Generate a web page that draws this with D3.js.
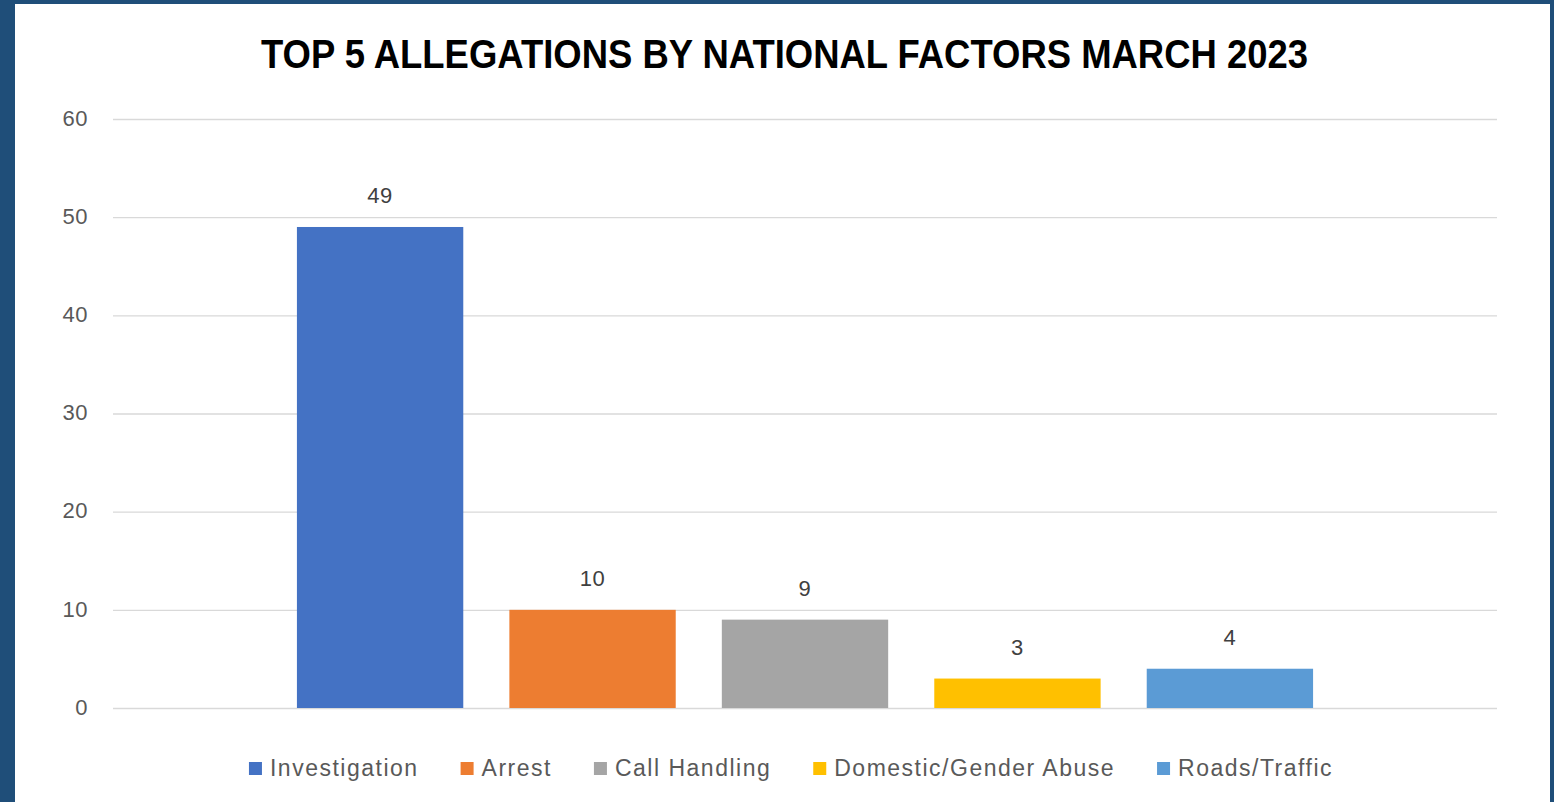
<!DOCTYPE html>
<html><head><meta charset="utf-8">
<script src="https://cdn.jsdelivr.net/npm/d3@7"></script>
<style>
html,body{margin:0;padding:0;background:#1F4E79;}
svg{display:block;}
</style></head>
<body>
<script>
const title = "TOP 5 ALLEGATIONS BY NATIONAL FACTORS MARCH 2023";
const category = ["March 2023"];
const series = ["Investigation", "Arrest", "Call Handling", "Domestic/Gender Abuse", "Roads/Traffic"];
const values = [49, 10, 9, 3, 4];
const colors = ["#4472C4", "#ED7D31", "#A5A5A5", "#FFC000", "#5B9BD5"];
const yTicks = [0, 10, 20, 30, 40, 50, 60];

const W = 1554, H = 802;
const svg = d3.select("body").append("svg").attr("width", W).attr("height", H);

// frame
svg.append("rect").attr("x", 0).attr("y", 0).attr("width", W).attr("height", H).attr("fill", "#1F4E79");
svg.append("rect").attr("x", 15).attr("y", 4).attr("width", 1535).attr("height", H - 4).attr("fill", "#ffffff");

const plot = {left: 113, right: 1497, top: 119, bottom: 708};
const y = d3.scaleLinear().domain([0, 60]).range([plot.bottom, plot.top]);
const x0 = d3.scaleBand().domain(category).range([plot.left, plot.right]).paddingInner(0).paddingOuter(0.181);
const x1 = d3.scaleBand().domain(series).range([0, x0.bandwidth()]).paddingInner(0.217).paddingOuter(0);

// title
svg.append("text").attr("x", 784.5).attr("y", 68).attr("text-anchor", "middle")
  .attr("font-family", "Liberation Sans, Arial, sans-serif").attr("font-weight", "bold")
  .attr("font-size", 40).attr("fill", "#000").attr("textLength", 1047).attr("lengthAdjust", "spacingAndGlyphs")
  .text(title);

// gridlines
const yAxis = d3.axisLeft(y).tickValues(yTicks).tickSize(-(plot.right - plot.left)).tickPadding(25).tickFormat(d3.format("d"));
const gy = svg.append("g").attr("transform", `translate(${plot.left},0)`).call(yAxis);
gy.select(".domain").remove();
gy.selectAll(".tick line").attr("stroke", "#D9D9D9").attr("stroke-width", 1.3);
gy.selectAll(".tick text").attr("fill", "#595959").attr("font-family", "Liberation Sans, Arial, sans-serif")
  .attr("font-size", 22).attr("letter-spacing", 0.5).attr("dy", "0.28em");

// bars
const g = svg.append("g").attr("transform", `translate(${x0(category[0])},0)`);
g.selectAll("rect.bar").data(series).join("rect").attr("class", "bar")
  .attr("x", d => x1(d)).attr("width", x1.bandwidth())
  .attr("y", (d, i) => y(values[i])).attr("height", (d, i) => y(0) - y(values[i]))
  .attr("fill", (d, i) => colors[i]);
g.selectAll("text.lbl").data(series).join("text").attr("class", "lbl")
  .attr("x", d => x1(d) + x1.bandwidth() / 2).attr("y", (d, i) => y(values[i]) - 24)
  .attr("text-anchor", "middle").attr("fill", "#404040")
  .attr("font-family", "Liberation Sans, Arial, sans-serif").attr("font-size", 22).attr("letter-spacing", 0.5)
  .text((d, i) => values[i]);

// legend
const leg = svg.append("g");
const items = leg.selectAll("g").data(series).join("g");
items.append("rect").attr("width", 13).attr("height", 13).attr("y", 762).attr("fill", (d, i) => colors[i]);
const texts = items.append("text").attr("x", 21).attr("y", 776).attr("fill", "#595959")
  .attr("font-family", "Liberation Sans, Arial, sans-serif").attr("font-size", 23).attr("letter-spacing", 1.5)
  .text(d => d);
let cx = 0;
const offs = [];
texts.each(function(d, i) { offs.push(cx); cx += 21 + this.getComputedTextLength() + 42; });
const total = cx - 42;
const startX = 791 - total / 2;
items.attr("transform", (d, i) => `translate(${startX + offs[i]},0)`);
</script>
</body></html>
